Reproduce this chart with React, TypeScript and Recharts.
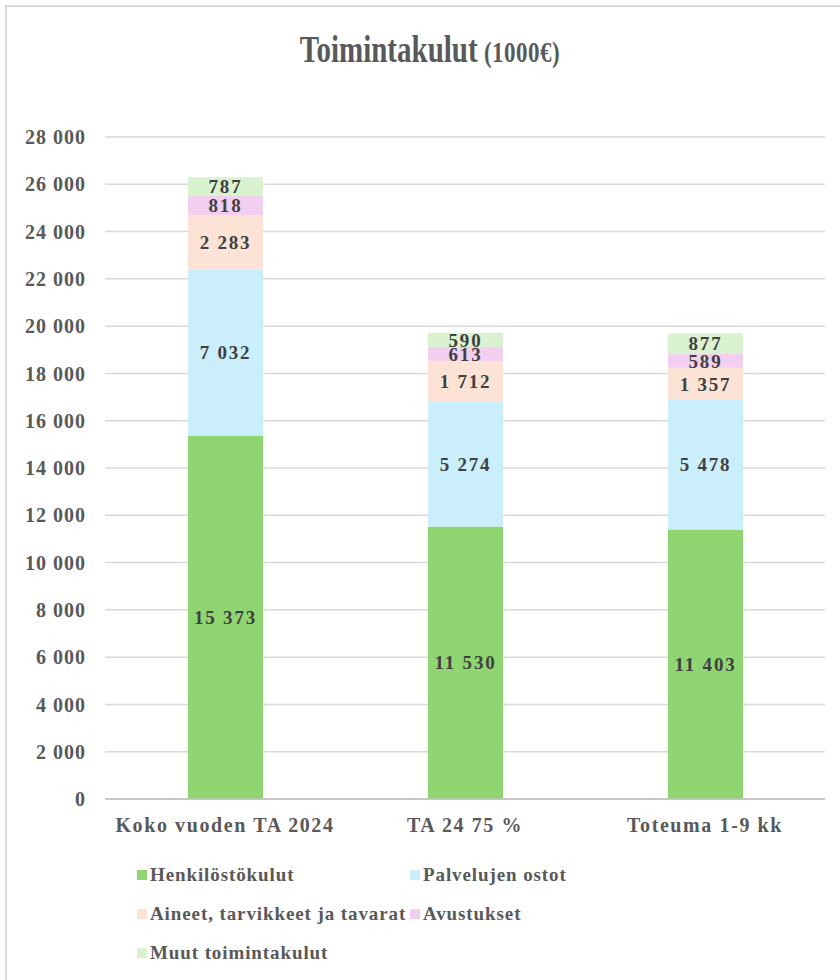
import { BarChart, Bar, XAxis, YAxis, CartesianGrid, LabelList } from "recharts";

const categories = ["Koko vuoden TA 2024", "TA 24 75 %", "Toteuma 1-9 kk"];
const henkilosto = [15373, 11530, 11403];
const palvelut = [7032, 5274, 5478];
const aineet = [2283, 1712, 1357];
const avustukset = [818, 613, 589];
const muut = [787, 590, 877];
const yTicks = [0, 2000, 4000, 6000, 8000, 10000, 12000, 14000, 16000, 18000, 20000, 22000, 24000, 26000, 28000];

const series = [
  { key: "henkilosto", name: "Henkilöstökulut", values: henkilosto, color: "#8fd672" },
  { key: "palvelut", name: "Palvelujen ostot", values: palvelut, color: "#caeefb" },
  { key: "aineet", name: "Aineet, tarvikkeet ja tavarat", values: aineet, color: "#fce3d5" },
  { key: "avustukset", name: "Avustukset", values: avustukset, color: "#f2cfee" },
  { key: "muut", name: "Muut toimintakulut", values: muut, color: "#d9f2d0" },
];

const data = categories.map((c, i) => {
  const row: Record<string, string | number> = { name: c };
  series.forEach((s) => (row[s.key] = s.values[i]));
  return row;
});

const font = '"Liberation Serif", "Times New Roman", serif';
const fmt = (v: number) => String(v).replace(/\B(?=(\d{3})+(?!\d))/g, " ");

export default function App() {
  return (
    <div style={{ position: "absolute", left: 0, top: 0, width: 840, height: 980, background: "#fff", overflow: "hidden", fontFamily: font }}>
      <div style={{ position: "absolute", left: 5, top: 5, width: 850, height: 990, border: "2px solid #d9d9d9", boxSizing: "border-box" }} />
      <div
        style={{
          position: "absolute",
          left: 0,
          width: 860,
          top: 28,
          textAlign: "center",
          color: "#595959",
          fontWeight: "bold",
          transform: "scale(1, 1.3)",
          transformOrigin: "center top",
          whiteSpace: "nowrap",
        }}
      >
        <span style={{ fontSize: 29 }}>Toimintakulut</span>
        <span style={{ fontSize: 23, letterSpacing: 0.5 }}> (1000€)</span>
      </div>
      <BarChart
        width={840}
        height={845}
        data={data}
        margin={{ top: 137, right: 15, bottom: 6, left: 0 }}
        barSize={75}
        style={{ position: "absolute", left: 0, top: 0 }}
      >
        <CartesianGrid vertical={false} stroke="#d9d9d9" strokeWidth={1.5} />
        <XAxis
          dataKey="name"
          height={40}
          tickLine={false}
          axisLine={{ stroke: "#bfbfbf", strokeWidth: 1.5 }}
          tickSize={0}
          tickMargin={19}
          tick={{ fill: "#595959", fontSize: 20, fontWeight: "bold", fontFamily: font, letterSpacing: 1.6 }}
        />
        <YAxis
          width={105}
          domain={[0, 28000]}
          ticks={yTicks}
          interval={0}
          tickFormatter={fmt}
          axisLine={false}
          tickLine={false}
          tickSize={0}
          tickMargin={19}
          tick={{ fill: "#595959", fontSize: 20, fontWeight: "bold", fontFamily: font, letterSpacing: 1 }}
        />
        {series.map((s) => (
          <Bar key={s.key} dataKey={s.key} name={s.name} stackId="a" fill={s.color} isAnimationActive={false}>
            <LabelList
              dataKey={s.key}
              position="center"
              formatter={(v: any) => fmt(Number(v))}
              style={{ fill: "#404040", fontSize: 19, fontWeight: "bold", fontFamily: font, letterSpacing: 1.8 }}
            />
          </Bar>
        ))}
      </BarChart>
      <div
        style={{
          position: "absolute",
          left: 137,
          top: 864,
          display: "grid",
          gridTemplateColumns: "273px 250px",
          rowGap: 17,
          color: "#595959",
          fontWeight: "bold",
          fontSize: 19,
          letterSpacing: 0.9,
        }}
      >
        {series.map((s) => (
          <div key={s.key} style={{ display: "flex", alignItems: "center", height: 22, whiteSpace: "nowrap" }}>
            <span style={{ width: 10, height: 10, flexShrink: 0, background: s.color, marginRight: 3, display: "inline-block" }} />
            {s.name}
          </div>
        ))}
      </div>
    </div>
  );
}
